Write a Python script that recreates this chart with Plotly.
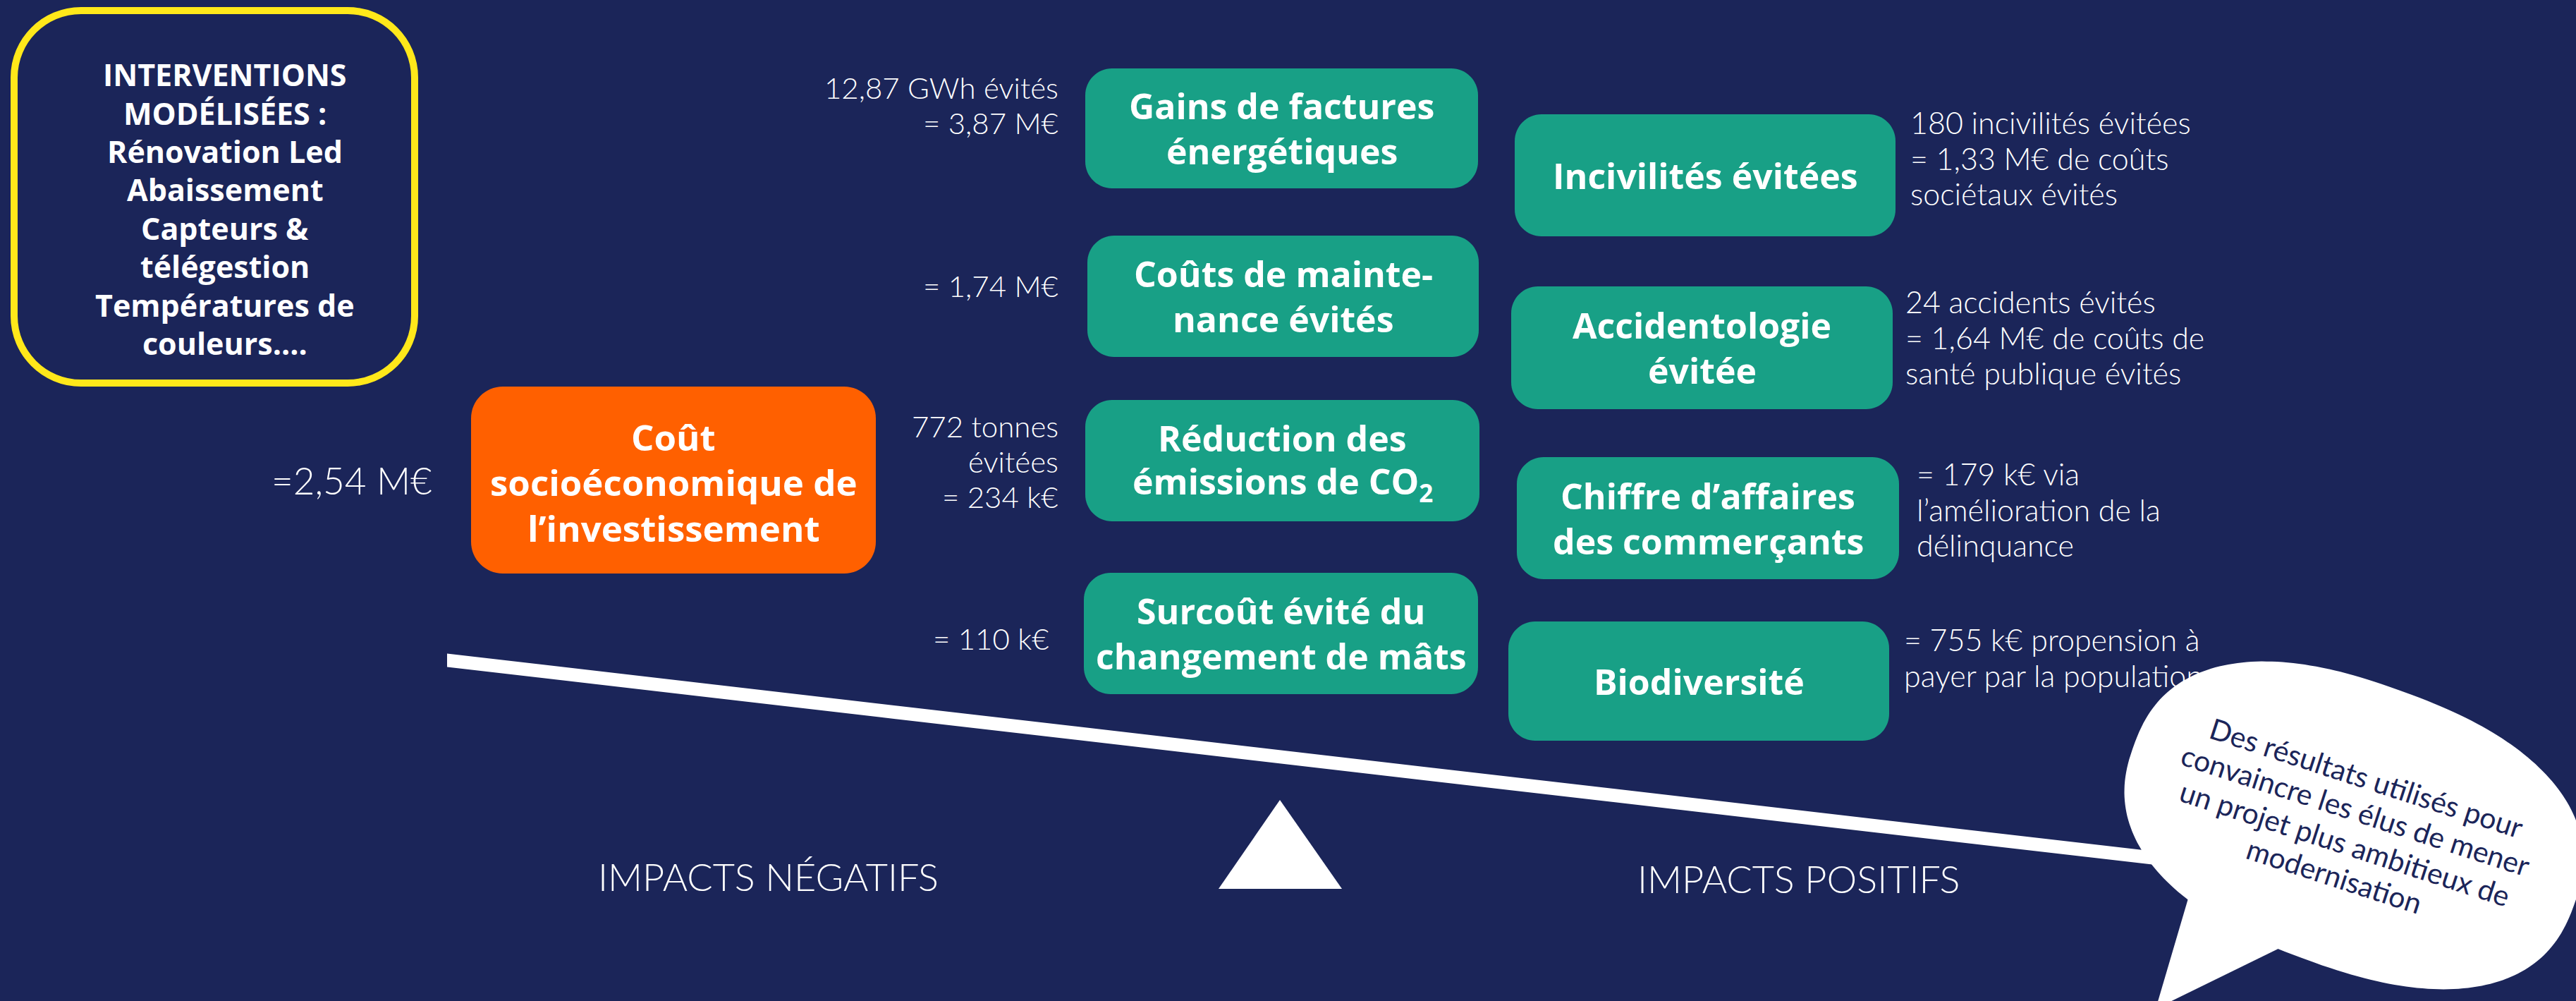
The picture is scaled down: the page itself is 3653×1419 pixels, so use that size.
import numpy as np
import plotly.graph_objects as go

W, H = 3653, 1419
BG = "#1B2559"
TEAL = "#18A086"
ORANGE = "#FF6000"
YELLOW = "#FFE81A"
WHITE = "#FFFFFF"

# ---------------- data (texts) ----------------
intervention_lines = ["INTERVENTIONS", "MODÉLISÉES :", "Rénovation Led", "Abaissement",
                      "Capteurs &", "télégestion", "Températures de", "couleurs...."]
cost_label = ["Coût", "socioéconomique de", "l’investissement"]
cost_value = ["=2,54 M€"]
left_labels = [["Gains de factures", "énergétiques"],
               ["Coûts de mainte-", "nance évités"],
               ["Réduction des", "émissions de CO<sub>2</sub>"],
               ["Surcoût évité du", "changement de mâts"]]
left_values = [["12,87 GWh évités", "= 3,87 M€"],
               ["= 1,74 M€"],
               ["772 tonnes", "évitées", "= 234 k€"],
               ["= 110 k€"]]
right_labels = [["Incivilités évitées"],
                ["Accidentologie", "évitée"],
                ["Chiffre d’affaires", "des commerçants"],
                ["Biodiversité"]]
right_values = [["180 incivilités évitées", "= 1,33 M€ de coûts", "sociétaux évités"],
                ["24 accidents évités", "= 1,64 M€ de coûts de", "santé publique évités"],
                ["= 179 k€ via", "l’amélioration de la", "délinquance"],
                ["= 755 k€ propension à", "payer par la population"]]
side_labels = ["IMPACTS NÉGATIFS", "IMPACTS POSITIFS"]
bubble_lines = ["Des résultats utilisés pour", "convaincre les élus de mener",
                "un projet plus ambitieux de", "modernisation"]

# ---------------- layout geometry (positions / sizes) ----------------
left_boxes = [(1539, 97, 2096, 267), (1542, 334, 2097, 506),
              (1539, 567, 2098, 739), (1537, 812, 2096, 984)]
right_boxes = [(2148, 162, 2688, 335), (2143, 406, 2684, 580),
               (2151, 648, 2693, 821), (2139, 881, 2679, 1050)]
left_value_pos = [(1503, 149), (1503, 405), (1503, 654), (1490, 905)]
right_value_pos = [(2707, 224), (2700, 478), (2716, 722), (2698, 932)]
yellow_box = (20, 15, 588, 543)
orange_box = (668, 548, 1242, 813)


def rrect(x0, y0, x1, y1, r):
    k = 0.5523 * r
    return (f"M {x0+r},{y0} L {x1-r},{y0} "
            f"C {x1-r+k},{y0} {x1},{y0+r-k} {x1},{y0+r} "
            f"L {x1},{y1-r} "
            f"C {x1},{y1-r+k} {x1-r+k},{y1} {x1-r},{y1} "
            f"L {x0+r},{y1} "
            f"C {x0+r-k},{y1} {x0},{y1-r+k} {x0},{y1-r} "
            f"L {x0},{y0+r} "
            f"C {x0},{y0+r-k} {x0+r-k},{y0} {x0+r},{y0} Z")


def poly(pts):
    return "M " + " L ".join(f"{x:.1f},{y:.1f}" for x, y in pts) + " Z"


shapes = []
shapes.append(dict(type="path", path=rrect(*yellow_box, 95), line=dict(color=YELLOW, width=10),
                   fillcolor=BG, layer="above"))
shapes.append(dict(type="path", path=rrect(*orange_box, 45), line=dict(width=0),
                   fillcolor=ORANGE, layer="above"))
for b in left_boxes + right_boxes:
    shapes.append(dict(type="path", path=rrect(*b, 38), line=dict(width=0),
                       fillcolor=TEAL, layer="above"))


def yc(x):
    return 936 + 0.1158 * (x - 634)


half = 9.5
beam = [(634, yc(634) - half), (3150, yc(3150) - half), (3150, yc(3150) + half), (634, yc(634) + half)]
shapes.append(dict(type="path", path=poly(beam), line=dict(width=0), fillcolor=WHITE, layer="above"))
shapes.append(dict(type="path", path=poly([(1815, 1134), (1903, 1260), (1728, 1260)]),
                   line=dict(width=0), fillcolor=WHITE, layer="above"))

# speech bubble (rotated superellipse + tail)
cx, cy, a, b, th, n = 3338, 1170, 332, 202, np.deg2rad(20), 2.4
t = np.linspace(0, 2 * np.pi, 240)
u = a * np.sign(np.cos(t)) * np.abs(np.cos(t)) ** (2 / n)
v = b * np.sign(np.sin(t)) * np.abs(np.sin(t)) ** (2 / n)
bx = cx + u * np.cos(th) - v * np.sin(th)
by = cy + u * np.sin(th) + v * np.cos(th)
shapes.append(dict(type="path", path=poly(list(zip(bx, by))), line=dict(width=0),
                   fillcolor=WHITE, layer="above"))
shapes.append(dict(type="path", path=poly([(3110, 1250), (3245, 1338), (3057, 1430)]),
                   line=dict(width=0), fillcolor=WHITE, layer="above"))

annotations = []


def add_text(x, y, lines, size, color=WHITE, family="Lato", weight=300, align="center",
             xanchor="center", angle=0):
    annotations.append(dict(x=x, y=y, xref="x", yref="y", text="<br>".join(lines),
                            showarrow=False, xanchor=xanchor, yanchor="middle", align=align,
                            textangle=angle,
                            font=dict(family=family, size=size, color=color, weight=weight)))


def add_lines(x, y, lines, size, spacing, **kw):
    n_ = len(lines)
    for i, ln in enumerate(lines):
        add_text(x, y + (i - (n_ - 1) / 2) * spacing, [ln], size, **kw)


add_lines(319, 296, intervention_lines, 43, 54.4, family="Open Sans", weight=700)
add_lines(955, 683, cost_label, 51, 64.5, family="Open Sans", weight=700)
add_text(615, 680, cost_value, 53, xanchor="right", align="right")
for bx_, lab in zip(left_boxes, left_labels):
    add_lines((bx_[0] + bx_[2]) / 2, (bx_[1] + bx_[3]) / 2, lab, 50, 63.5,
              family="Open Sans", weight=700)
for bx_, lab in zip(right_boxes, right_labels):
    add_lines((bx_[0] + bx_[2]) / 2, (bx_[1] + bx_[3]) / 2, lab, 50, 64,
              family="Open Sans", weight=700)
for (x, y), vals in zip(left_value_pos, left_values):
    add_lines(x, y, vals, 42, 50, xanchor="right", align="right")
for (x, y), vals in zip(right_value_pos, right_values):
    add_lines(x, y, vals, 43, 50.5, xanchor="left", align="left")
add_text(1089, 1242, [side_labels[0]], 54)
add_text(2551, 1245, [side_labels[1]], 54)

# rotated bubble text, one line at a time along the normal direction
ang = 18
nx, ny = -np.sin(np.deg2rad(ang)), np.cos(np.deg2rad(ang))
bcx, bcy, bsp = 3333, 1172, 49
for i, ln in enumerate(bubble_lines):
    k = i - (len(bubble_lines) - 1) / 2
    add_text(bcx + k * bsp * nx, bcy + k * bsp * ny, [ln], 41, color=BG, weight=400, angle=ang)

fig = go.Figure()
fig.update_layout(
    width=W, height=H, margin=dict(l=0, r=0, t=0, b=0),
    paper_bgcolor=BG, plot_bgcolor=BG, showlegend=False,
    xaxis=dict(range=[0, W], visible=False, fixedrange=True),
    yaxis=dict(range=[H, 0], visible=False, fixedrange=True),
    shapes=shapes, annotations=annotations,
)
fig.write_html("out.html", config={"displayModeBar": False},
               post_script="document.body.style.margin='0';document.body.style.overflow='hidden';")
